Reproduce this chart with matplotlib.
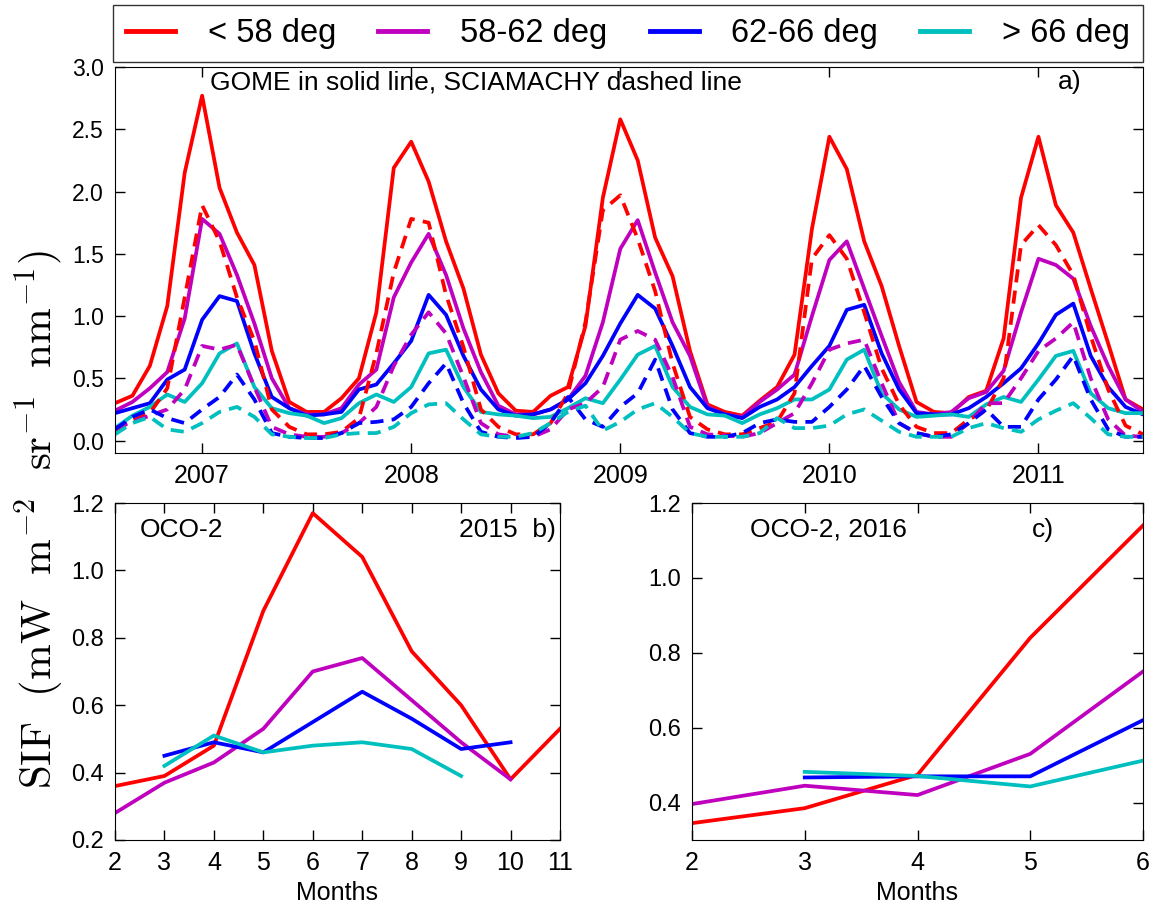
import numpy as np
import matplotlib
matplotlib.use("Agg")
import matplotlib.pyplot as plt
from matplotlib.lines import Line2D

plt.rcParams['font.family'] = ['Liberation Sans', 'DejaVu Sans']
plt.rcParams['mathtext.fontset'] = 'cm'
plt.rcParams['xtick.direction'] = 'in'
plt.rcParams['ytick.direction'] = 'in'

# ---------------- data ----------------
series_labels = ['< 58 deg', '58-62 deg', '62-66 deg', '> 66 deg']
series_colors = ['#ff0000', '#bf00bf', '#0000ff', '#00bfbf']

# monthly time axis: Aug 2006 .. Jul 2011 (decimal years, peaks at year ticks)
n_months = 60
first_offset_months = -5     # first sample is 5 months before the 2007 tick

gome_lt58 = [0.30, 0.36, 0.60, 1.08, 2.15, 2.77, 2.03, 1.67, 1.41, 0.72, 0.31, 0.23,
             0.23, 0.34, 0.50, 1.03, 2.19, 2.40, 2.08, 1.60, 1.22, 0.69, 0.38, 0.24,
             0.23, 0.36, 0.43, 0.92, 1.95, 2.58, 2.25, 1.63, 1.32, 0.72, 0.29, 0.23,
             0.20, 0.32, 0.43, 0.69, 1.70, 2.44, 2.18, 1.60, 1.24, 0.76, 0.31, 0.23,
             0.22, 0.35, 0.40, 0.82, 1.95, 2.44, 1.89, 1.67, 1.22, 0.78, 0.33, 0.25]
gome_58_62 = [0.24, 0.31, 0.42, 0.55, 0.98, 1.78, 1.66, 1.33, 0.94, 0.50, 0.26, 0.21,
              0.21, 0.26, 0.45, 0.57, 1.15, 1.43, 1.66, 1.33, 0.90, 0.55, 0.28, 0.21,
              0.21, 0.25, 0.33, 0.52, 0.95, 1.54, 1.77, 1.35, 0.95, 0.68, 0.27, 0.21,
              0.19, 0.31, 0.41, 0.53, 1.00, 1.45, 1.60, 1.22, 0.84, 0.47, 0.23, 0.21,
              0.23, 0.34, 0.39, 0.56, 1.03, 1.46, 1.41, 1.30, 0.92, 0.60, 0.33, 0.23]
gome_62_66 = [0.22, 0.26, 0.30, 0.49, 0.57, 0.97, 1.16, 1.12, 0.70, 0.35, 0.26, 0.20,
              0.21, 0.23, 0.41, 0.45, 0.62, 0.80, 1.17, 1.01, 0.68, 0.41, 0.25, 0.20,
              0.21, 0.25, 0.33, 0.46, 0.68, 0.94, 1.17, 1.06, 0.76, 0.43, 0.26, 0.21,
              0.18, 0.27, 0.33, 0.43, 0.60, 0.76, 1.05, 1.09, 0.70, 0.41, 0.22, 0.21,
              0.21, 0.26, 0.35, 0.46, 0.58, 0.78, 1.01, 1.10, 0.68, 0.43, 0.27, 0.21]
gome_gt66 = [0.10, 0.20, 0.27, 0.37, 0.31, 0.46, 0.70, 0.78, 0.43, 0.26, 0.22, 0.20,
             0.14, 0.18, 0.30, 0.37, 0.31, 0.43, 0.70, 0.73, 0.43, 0.23, 0.21, 0.20,
             0.18, 0.19, 0.26, 0.34, 0.30, 0.49, 0.69, 0.76, 0.43, 0.27, 0.21, 0.20,
             0.14, 0.21, 0.26, 0.33, 0.33, 0.41, 0.65, 0.73, 0.38, 0.25, 0.19, 0.20,
             0.21, 0.19, 0.29, 0.35, 0.31, 0.49, 0.68, 0.72, 0.38, 0.26, 0.22, 0.22]

scia_lt58 = [0.08, 0.16, 0.22, 0.42, 1.15, 1.89, 1.60, 1.15, 0.80, 0.25, 0.11, 0.05,
             0.05, 0.07, 0.18, 0.70, 1.35, 1.78, 1.75, 1.17, 0.75, 0.25, 0.11, 0.05,
             0.05, 0.14, 0.38, 0.95, 1.85, 1.97, 1.62, 1.20, 0.62, 0.19, 0.09, 0.05,
             0.05, 0.10, 0.15, 0.38, 1.46, 1.65, 1.46, 1.03, 0.58, 0.29, 0.11, 0.06,
             0.06, 0.17, 0.24, 0.50, 1.57, 1.73, 1.57, 1.33, 0.84, 0.41, 0.12, 0.05]
scia_58_62 = [0.10, 0.15, 0.20, 0.25, 0.41, 0.76, 0.73, 0.77, 0.43, 0.11, 0.05, 0.03,
              0.03, 0.06, 0.14, 0.27, 0.60, 0.85, 1.03, 0.86, 0.51, 0.14, 0.05, 0.03,
              0.03, 0.09, 0.25, 0.30, 0.43, 0.81, 0.88, 0.81, 0.51, 0.11, 0.05, 0.04,
              0.03, 0.06, 0.14, 0.22, 0.46, 0.73, 0.78, 0.81, 0.46, 0.14, 0.06, 0.03,
              0.03, 0.14, 0.30, 0.30, 0.50, 0.72, 0.82, 0.95, 0.50, 0.17, 0.04, 0.03]
scia_62_66 = [0.09, 0.19, 0.25, 0.18, 0.14, 0.25, 0.35, 0.53, 0.33, 0.06, 0.03, 0.02,
              0.02, 0.06, 0.14, 0.15, 0.17, 0.27, 0.46, 0.62, 0.30, 0.07, 0.03, 0.02,
              0.03, 0.14, 0.35, 0.17, 0.11, 0.27, 0.38, 0.65, 0.25, 0.06, 0.03, 0.03,
              0.06, 0.14, 0.17, 0.15, 0.15, 0.27, 0.41, 0.60, 0.35, 0.14, 0.06, 0.03,
              0.05, 0.14, 0.25, 0.11, 0.11, 0.33, 0.49, 0.68, 0.33, 0.09, 0.03, 0.03]
scia_gt66 = [0.05, 0.14, 0.19, 0.09, 0.07, 0.14, 0.23, 0.27, 0.19, 0.05, 0.03, 0.02,
             0.02, 0.05, 0.06, 0.06, 0.11, 0.22, 0.29, 0.30, 0.17, 0.05, 0.03, 0.03,
             0.06, 0.14, 0.23, 0.28, 0.08, 0.15, 0.25, 0.30, 0.19, 0.06, 0.03, 0.03,
             0.03, 0.06, 0.18, 0.10, 0.10, 0.12, 0.21, 0.25, 0.16, 0.07, 0.03, 0.03,
             0.03, 0.10, 0.14, 0.10, 0.07, 0.17, 0.24, 0.30, 0.18, 0.05, 0.03, 0.03]

year_ticks = [2007, 2008, 2009, 2010, 2011]

# OCO-2 2015 (panel b)
oco15_months = [2, 3, 4, 5, 6, 7, 8, 9, 10, 11]
oco15_lt58 = [0.36, 0.39, 0.48, 0.88, 1.17, 1.04, 0.76, 0.60, 0.38, 0.53]
oco15_58_62 = [0.28, 0.37, 0.43, 0.53, 0.70, 0.74, 0.615, 0.49, 0.38, np.nan]
oco15_62_66 = [np.nan, 0.45, 0.49, 0.46, 0.55, 0.64, 0.56, 0.47, 0.49, np.nan]
oco15_gt66 = [np.nan, 0.42, 0.51, 0.46, 0.48, 0.49, 0.47, 0.39, np.nan, np.nan]

# OCO-2 2016 (panel c)
oco16_months = [2, 3, 4, 5, 6]
oco16_lt58 = [0.345, 0.385, 0.474, 0.84, 1.14]
oco16_58_62 = [0.396, 0.445, 0.42, 0.53, 0.75]
oco16_62_66 = [np.nan, 0.467, 0.47, 0.47, 0.62]
oco16_gt66 = [np.nan, 0.482, 0.471, 0.443, 0.512]

# ---------------- figure ----------------
W, H = 1155, 911
fig = plt.figure(figsize=(W / 100, H / 100), dpi=100)

def rect(l, t, r, b):
    return [l / W, 1 - b / H, (r - l) / W, (b - t) / H]

LW = 2.7
dash = (0, (3.5, 2.2))
ANN = 19

# top panel
ax = fig.add_axes(rect(115, 67, 1143, 453))
t = [year_ticks[0] + (first_offset_months + i) / 12.0 for i in range(n_months)]
gome = [gome_lt58, gome_58_62, gome_62_66, gome_gt66]
scia = [scia_lt58, scia_58_62, scia_62_66, scia_gt66]
for vals, col in zip(gome, series_colors):
    ax.plot(t, vals, color=col, lw=LW)
for vals, col in zip(scia, series_colors):
    ax.plot(t, vals, color=col, lw=LW, linestyle=dash)
ax.set_xlim(t[0], t[-1])
ax.set_ylim(-0.1, 3.0)
ax.set_xticks(year_ticks)
ax.set_xticklabels([str(y) for y in year_ticks])
yt = np.arange(0, 3.01, 0.5)
ax.set_yticks(yt)
ax.set_yticklabels(['%.1f' % v for v in yt])
ax.tick_params(axis='both', which='both', top=True, right=True, length=7, width=1, pad=8)
ax.tick_params(axis='x', labelsize=18)
ax.tick_params(axis='y', labelsize=16.5)
ax.text((210 - 115) / 1028, 0.96, 'GOME in solid line, SCIAMACHY dashed line',
        transform=ax.transAxes, fontsize=ANN, ha='left', va='center')
ax.text((1058 - 115) / 1028, 0.96, 'a)', transform=ax.transAxes, fontsize=ANN,
        ha='left', va='center')

# legend
handles = [Line2D([], [], color=c, lw=3.5) for c in series_colors]
fig.legend(handles, series_labels, loc='upper left',
           bbox_to_anchor=(113 / W, 1 - 5 / H, 1030 / W, 0), mode='expand',
           ncol=4, fontsize=23.5, frameon=True, fancybox=False, edgecolor='black',
           borderaxespad=0, handlelength=1.5, handletextpad=1.0, borderpad=0.4)

# panel b
axb = fig.add_axes(rect(115, 503, 560, 840))
for vals, col in zip([oco15_lt58, oco15_58_62, oco15_62_66, oco15_gt66], series_colors):
    axb.plot(oco15_months, vals, color=col, lw=LW)
axb.set_xlim(2, 11)
axb.set_ylim(0.2, 1.2)
axb.set_xticks(oco15_months)
axb.set_yticks([0.2, 0.4, 0.6, 0.8, 1.0, 1.2])
axb.set_yticklabels(['0.2', '0.4', '0.6', '0.8', '1.0', '1.2'])
axb.tick_params(axis='both', top=True, right=True, length=7, width=1, pad=8)
axb.tick_params(axis='x', labelsize=18)
axb.tick_params(axis='y', labelsize=17)
axb.set_xlabel('Months', fontsize=18, labelpad=4)
axb.text((140 - 115) / 445, 0.92, 'OCO-2', transform=axb.transAxes, fontsize=ANN,
         ha='left', va='center')
axb.text(0.99, 0.92, '2015  b)', transform=axb.transAxes, fontsize=ANN,
         ha='right', va='center')

# panel c
axc = fig.add_axes(rect(692, 503, 1143, 840))
for vals, col in zip([oco16_lt58, oco16_58_62, oco16_62_66, oco16_gt66], series_colors):
    axc.plot(oco16_months, vals, color=col, lw=LW)
axc.set_xlim(2, 6)
axc.set_ylim(0.3, 1.2)
axc.set_xticks(oco16_months)
axc.set_yticks([0.4, 0.6, 0.8, 1.0, 1.2])
axc.set_yticklabels(['0.4', '0.6', '0.8', '1.0', '1.2'])
axc.tick_params(axis='both', top=True, right=True, length=7, width=1, pad=8)
axc.tick_params(axis='x', labelsize=18)
axc.tick_params(axis='y', labelsize=17)
axc.set_xlabel('Months', fontsize=18, labelpad=4)
axc.text((750 - 692) / 451, 0.92, 'OCO-2, 2016', transform=axc.transAxes, fontsize=ANN,
         ha='left', va='center')
axc.text((1032 - 692) / 451, 0.92, 'c)', transform=axc.transAxes, fontsize=ANN,
         ha='left', va='center')

# shared y label
fig.text(40 / W, 1 - 520 / H,
         r'$\mathrm{SIF\ \ (mW\ \ m^{-2}\ \ sr^{-1}\ \ nm^{-1})}$',
         rotation=90, ha='center', va='center', fontsize=31)

fig.savefig('out.png', dpi=100)
